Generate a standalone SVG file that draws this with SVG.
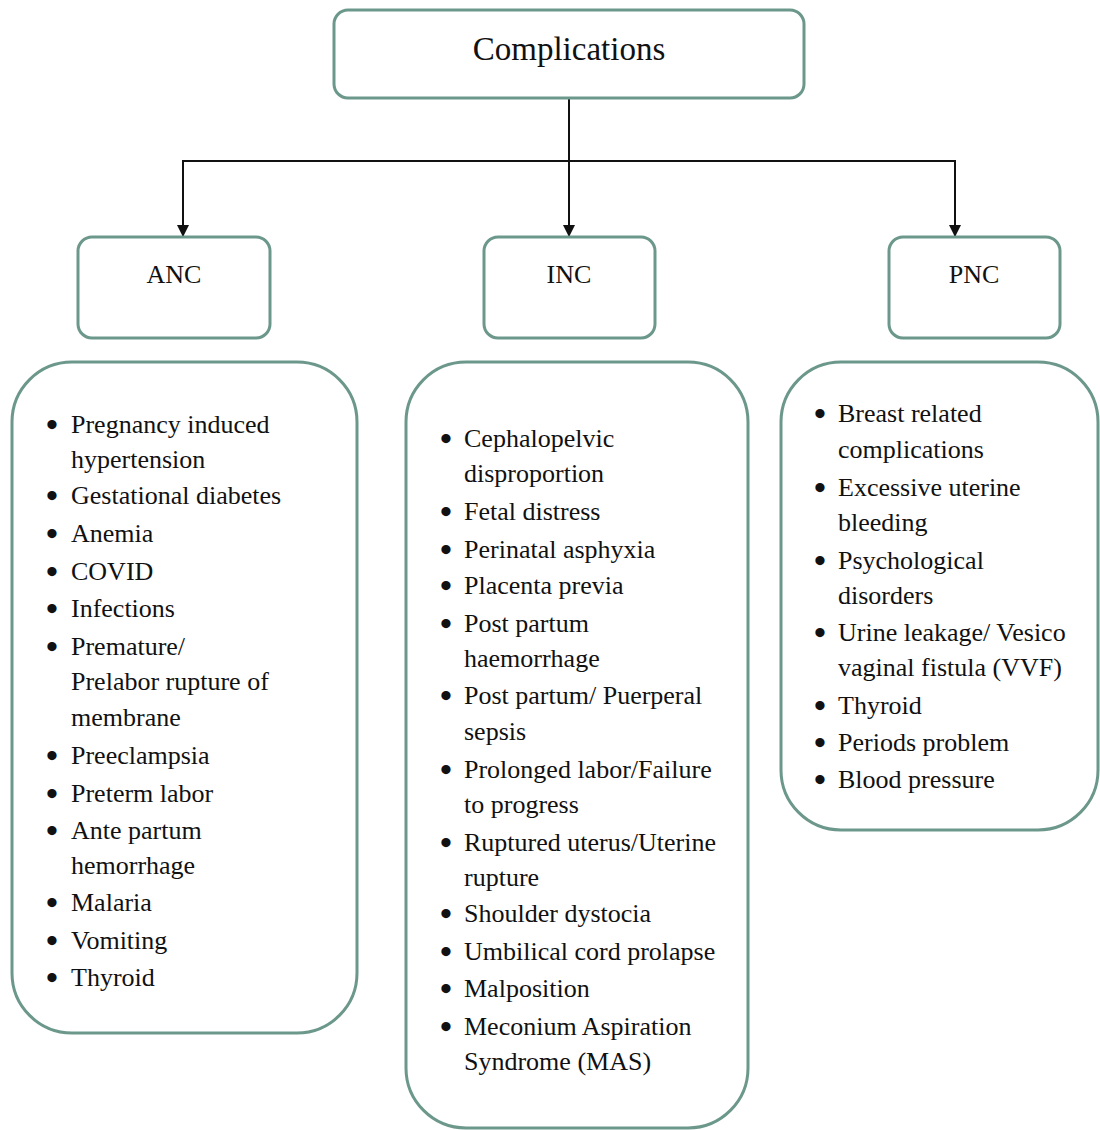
<svg xmlns="http://www.w3.org/2000/svg" width="1100" height="1130" viewBox="0 0 1100 1130" font-family="Liberation Serif, Times New Roman, serif">
<style>
.box{fill:#ffffff;stroke:#6c978b;stroke-width:3}
.t{fill:#111111}
.h{font-size:26px;text-anchor:middle}
.li{font-size:26px}
.b{font-size:34px;font-weight:bold}
.c{stroke:#111;stroke-width:2;fill:none}
</style>
<defs>
<marker id="a" viewBox="0 0 12 12" refX="12" refY="6" markerWidth="12" markerHeight="14" markerUnits="userSpaceOnUse" orient="auto">
<path d="M0,0 L12,6 L0,12 z" fill="#111"/>
</marker>
</defs>
<rect width="1100" height="1130" fill="#ffffff"/>
<g id="connectors">
<path class="c" d="M569,98 V237" marker-end="url(#a)"/>
<path class="c" d="M183,161 H955"/>
<path class="c" d="M183,160 V237" marker-end="url(#a)"/>
<path class="c" d="M955,160 V237" marker-end="url(#a)"/>
</g>
<g id="complications">
<rect class="box" x="334" y="10" width="470" height="88" rx="14"/>
<text class="t h" x="569" y="60" font-family="Liberation Serif, serif" style="font-size:33px">Complications</text>
</g>
<g id="anc">
<rect class="box" x="78" y="237" width="192" height="101" rx="14"/>
<text class="t h" x="174" y="283" font-family="Liberation Serif, serif">ANC</text>
</g>
<g id="inc">
<rect class="box" x="484" y="237" width="171" height="101" rx="14"/>
<text class="t h" x="569" y="283" font-family="Liberation Serif, serif">INC</text>
</g>
<g id="pnc">
<rect class="box" x="889" y="237" width="171" height="101" rx="14"/>
<text class="t h" x="974" y="283" font-family="Liberation Serif, serif">PNC</text>
</g>
<g id="anc-list">
<rect class="box" x="12" y="362" width="345" height="671" rx="60"/>
<g class="t b" font-family="Liberation Serif, serif" transform="translate(0,3)">
<text x="46" y="433">•</text><text x="46" y="504">•</text><text x="46" y="542">•</text><text x="46" y="580">•</text><text x="46" y="617">•</text><text x="46" y="655">•</text><text x="46" y="764">•</text><text x="46" y="802">•</text><text x="46" y="839">•</text><text x="46" y="911">•</text><text x="46" y="949">•</text><text x="46" y="986">•</text>
</g>
<g class="t li" font-family="Liberation Serif, serif">
<text x="71" y="433">Pregnancy induced</text>
<text x="71" y="468">hypertension</text>
<text x="71" y="504">Gestational diabetes</text>
<text x="71" y="542">Anemia</text>
<text x="71" y="580">COVID</text>
<text x="71" y="617">Infections</text>
<text x="71" y="655">Premature/</text>
<text x="71" y="690">Prelabor rupture of</text>
<text x="71" y="726">membrane</text>
<text x="71" y="764">Preeclampsia</text>
<text x="71" y="802">Preterm labor</text>
<text x="71" y="839">Ante partum</text>
<text x="71" y="874">hemorrhage</text>
<text x="71" y="911">Malaria</text>
<text x="71" y="949">Vomiting</text>
<text x="71" y="986">Thyroid</text>
</g>
</g>
<g id="inc-list">
<rect class="box" x="406" y="362" width="342" height="766" rx="60"/>
<g class="t b" font-family="Liberation Serif, serif" transform="translate(0,3)">
<text x="440" y="447">•</text><text x="440" y="520">•</text><text x="440" y="558">•</text><text x="440" y="594">•</text><text x="440" y="632">•</text><text x="440" y="704">•</text><text x="440" y="778">•</text><text x="440" y="851">•</text><text x="440" y="922">•</text><text x="440" y="960">•</text><text x="440" y="997">•</text><text x="440" y="1035">•</text>
</g>
<g class="t li" font-family="Liberation Serif, serif">
<text x="464" y="447">Cephalopelvic</text>
<text x="464" y="482">disproportion</text>
<text x="464" y="520">Fetal distress</text>
<text x="464" y="558">Perinatal asphyxia</text>
<text x="464" y="594">Placenta previa</text>
<text x="464" y="632">Post partum</text>
<text x="464" y="667">haemorrhage</text>
<text x="464" y="704">Post partum/ Puerperal</text>
<text x="464" y="740">sepsis</text>
<text x="464" y="778">Prolonged labor/Failure</text>
<text x="464" y="813">to progress</text>
<text x="464" y="851">Ruptured uterus/Uterine</text>
<text x="464" y="886">rupture</text>
<text x="464" y="922">Shoulder dystocia</text>
<text x="464" y="960">Umbilical cord prolapse</text>
<text x="464" y="997">Malposition</text>
<text x="464" y="1035">Meconium Aspiration</text>
<text x="464" y="1070">Syndrome (MAS)</text>
</g>
</g>
<g id="pnc-list">
<rect class="box" x="781" y="362" width="317" height="468" rx="60"/>
<g class="t b" font-family="Liberation Serif, serif" transform="translate(0,3)">
<text x="814" y="422">•</text><text x="814" y="496">•</text><text x="814" y="569">•</text><text x="814" y="641">•</text><text x="814" y="714">•</text><text x="814" y="751">•</text><text x="814" y="788">•</text>
</g>
<g class="t li" font-family="Liberation Serif, serif">
<text x="838" y="422">Breast related</text>
<text x="838" y="458">complications</text>
<text x="838" y="496">Excessive uterine</text>
<text x="838" y="531">bleeding</text>
<text x="838" y="569">Psychological</text>
<text x="838" y="604">disorders</text>
<text x="838" y="641">Urine leakage/ Vesico</text>
<text x="838" y="676">vaginal fistula (VVF)</text>
<text x="838" y="714">Thyroid</text>
<text x="838" y="751">Periods problem</text>
<text x="838" y="788">Blood pressure</text>
</g>
</g>
</svg>
